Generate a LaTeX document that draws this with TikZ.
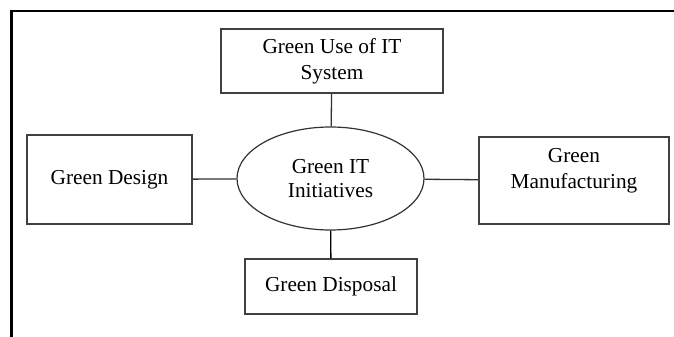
\documentclass[tikz,border=0pt]{standalone}
\usepackage{fontspec}
\setmainfont{Liberation Serif}
\usetikzlibrary{shapes.geometric}
\tikzset{
  box/.style={draw=black!75, line width=1.3pt, align=center, inner sep=0pt},
  hub/.style={draw=black!80, line width=1.2pt, ellipse, align=center, inner sep=0pt,
    minimum width=187pt, minimum height=103pt},
  link/.style={draw=black!80, line width=1.3pt}
}
\begin{document}
\begin{tikzpicture}[x=1pt, y=-1pt, font=\fontsize{21.3}{26}\selectfont]
                \useasboundingbox (0,0) rectangle (674,337);
                % Frame
                \draw[line width=2.6pt] (11.5,337) -- (11.5,11) -- (674,11);

                % Define node positions
                \node[box, minimum width=222pt, minimum height=64pt] (use) at (332, 61) {Green Use of IT\\System};
                \node[hub] (core) at (330.5, 178.5) {Green IT\\[-2pt]Initiatives};
                \node[box, minimum width=165pt, minimum height=89pt] (design) at (109.5, 179.5) {Green Design};
                \node[box, minimum width=190pt, minimum height=87pt] (manu) at (574, 180.5) {};
                \node[align=center] (manulabel) at ([yshift=10pt]manu.center) {Green\\Manufacturing};
                \node[box, minimum width=172pt, minimum height=55pt] (disp) at (331, 286.5) {Green Disposal};

                % Draw connections
                \draw[link] (use) -- (core);
                \draw[link] (design) -- (core);
                \draw[link] (core) -- (manu);
                \draw[link, draw=black] (core) -- (disp);
            \end{tikzpicture}
\end{document}
